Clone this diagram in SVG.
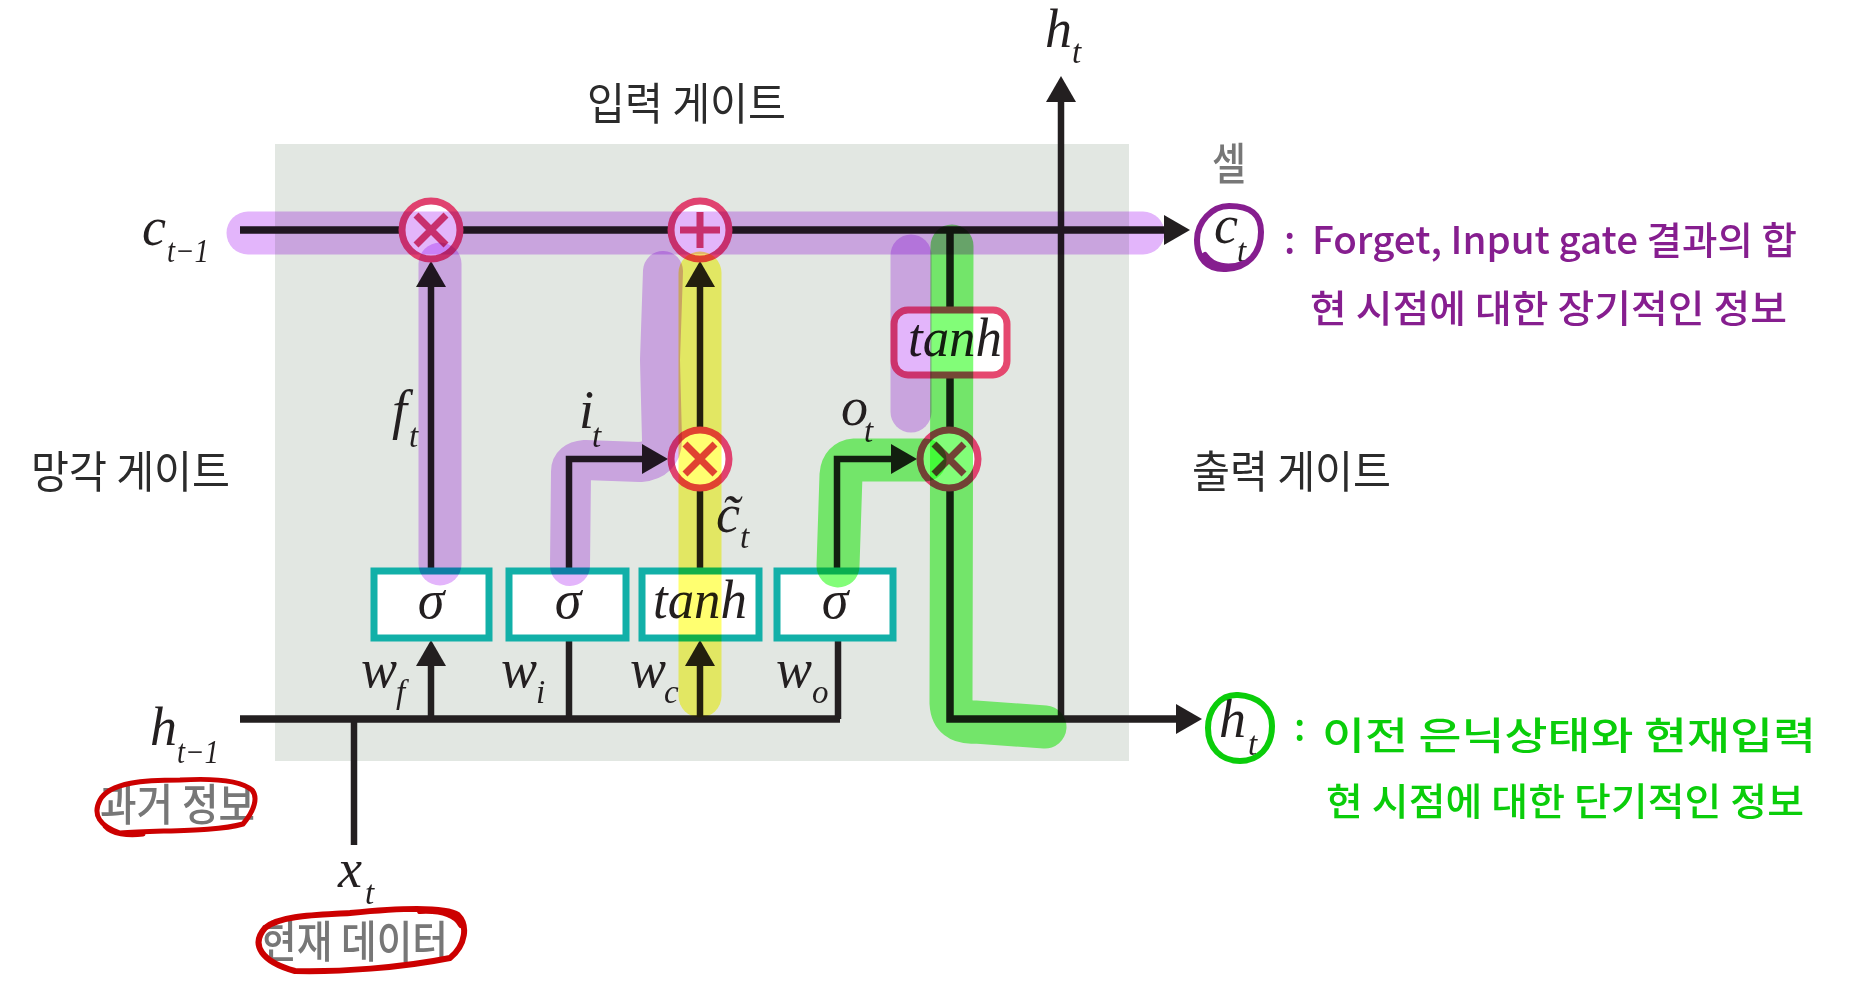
<svg xmlns="http://www.w3.org/2000/svg" width="1852" height="1000" viewBox="0 0 1852 1000">
<style>
.wire{fill:none;stroke:#231f20;stroke-width:6.5}
.thick{stroke-width:7.5}
.arr{marker-end:url(#head)}
.box{fill:#fff;stroke:#12b0a8;stroke-width:7}
.tbox{fill:#fff;stroke:#e5486f;stroke-width:7}
.op{fill:#fff;stroke:#e0426f;stroke-width:7}
.opm{fill:none;stroke:#e0426f;stroke-width:7}
.m{font-family:"Liberation Serif",serif;font-style:italic;fill:#231f20;font-size:54px}
.s{font-family:"Liberation Serif",serif;font-style:italic;fill:#231f20;font-size:33px}
.k{font-family:"Noto Sans CJK KR","Noto Sans",sans-serif;fill:#2b2b2b;font-size:44px}
.g{fill:#777;font-weight:500}
.hand{font-family:"Noto Sans CJK KR","Noto Sans",sans-serif;font-size:38px;font-weight:500}
.pp{fill:#861e8f}
.gr{fill:#0acd0a}
.hl{fill:none;stroke-linecap:round;stroke-linejoin:round;mix-blend-mode:multiply}
.hp{stroke:#e3b5fb}
.hy{stroke:#ffff70}
.hg{stroke:#82fd78}
.ring{fill:none;stroke-linecap:round;stroke-linejoin:round}
</style>
<defs>
<marker id="head" viewBox="0 0 26 30" refX="0" refY="15" markerWidth="26" markerHeight="30" markerUnits="userSpaceOnUse" orient="auto"><path d="M0 0L26 15L0 30Z" fill="#231f20"/></marker>
</defs>
<rect width="1852" height="1000" fill="#fff"/>
<rect id="cell-bg" x="275" y="144" width="854" height="617" fill="#e2e7e2"/>
<g id="connectors">
<path class="wire thick arr" d="M240 230H1164"/>
<path class="wire thick" d="M240 719H840"/>
<path class="wire" d="M354 719V845"/>
<path class="wire arr" d="M431 568V287"/>
<path class="wire arr" d="M431 719V666"/>
<path class="wire arr" d="M569 568V459H642"/>
<path class="wire" d="M569 719V641"/>
<path class="wire arr" d="M700 719V666"/>
<path class="wire" d="M700 568V490"/>
<path class="wire arr" d="M700 428V287"/>
<path class="wire" d="M838 719V641"/>
<path class="wire arr" d="M837 568V459H891"/>
<path class="wire thick arr" d="M950 230V719H1176"/>
<path class="wire arr" d="M1061 719V102"/>
</g>
<g id="sigma-f"><rect class="box" x="374" y="571" width="115" height="67"/><text class="m" x="431" y="618" text-anchor="middle">σ</text></g>
<g id="sigma-i"><rect class="box" x="509" y="571" width="117" height="67"/><text class="m" x="568" y="618" text-anchor="middle">σ</text></g>
<g id="tanh-c"><rect class="box" x="642" y="571" width="117" height="67"/><text class="m" x="700" y="618" text-anchor="middle" textLength="94" lengthAdjust="spacingAndGlyphs">tanh</text></g>
<g id="sigma-o"><rect class="box" x="777" y="571" width="116" height="67"/><text class="m" x="835" y="618" text-anchor="middle">σ</text></g>
<g id="tanh-o"><rect class="tbox" x="894" y="310" width="113" height="65" rx="14"/><text class="m" x="955" y="356" text-anchor="middle" textLength="94" lengthAdjust="spacingAndGlyphs">tanh</text></g>
<g id="mul-forget"><circle class="op" cx="431" cy="230" r="29"/><path class="opm" d="M416 215L446 245M446 215L416 245"/></g>
<g id="add-cell"><circle class="op" cx="700" cy="230" r="29"/><path class="opm" d="M680 230H720M700 212V248"/></g>
<g id="mul-input"><circle class="op" cx="700" cy="459" r="29"/><path class="opm" d="M685 444L715 474M715 444L685 474"/></g>
<g id="mul-output"><circle class="op" cx="949" cy="459" r="29"/><path class="opm" d="M934 444L964 474M964 444L934 474"/></g>
<g id="labels-math">
<text class="m" x="142" y="245">c</text><text class="s" x="167" y="262" textLength="42" lengthAdjust="spacingAndGlyphs">t−1</text>
<text class="m" x="392" y="428">f</text><text class="s" x="409" y="447">t</text>
<text class="m" x="579" y="428">i</text><text class="s" x="592" y="447">t</text>
<text class="m" x="841" y="425">o</text><text class="s" x="864" y="442">t</text>
<text class="m" x="716" y="532">c̃</text><text class="s" x="740" y="548">t</text>
<text class="m" x="361" y="687">w</text><text class="s" x="396" y="703">f</text>
<text class="m" x="501" y="687">w</text><text class="s" x="536" y="703">i</text>
<text class="m" x="630" y="687">w</text><text class="s" x="664" y="703">c</text>
<text class="m" x="776" y="687">w</text><text class="s" x="812" y="703">o</text>
<text class="m" x="150" y="745">h</text><text class="s" x="177" y="763" textLength="42" lengthAdjust="spacingAndGlyphs">t−1</text>
<text class="m" x="338" y="887">x</text><text class="s" x="365" y="904">t</text>
<text class="m" x="1045" y="47">h</text><text class="s" x="1072" y="63">t</text>
<text class="m" x="1214" y="243">c</text><text class="s" x="1237" y="262">t</text>
<text class="m" x="1219" y="737">h</text><text class="s" x="1248" y="755">t</text>
</g>
<g id="labels-kr">
<text class="k" x="587" y="120" textLength="199" lengthAdjust="spacingAndGlyphs">입력 게이트</text>
<text class="k" x="31" y="488" textLength="199" lengthAdjust="spacingAndGlyphs">망각 게이트</text>
<text class="k" x="1192" y="488" textLength="199" lengthAdjust="spacingAndGlyphs">출력 게이트</text>
<text class="k g" x="1212" y="180" textLength="34" lengthAdjust="spacingAndGlyphs">셀</text>
<text class="k g" x="100" y="821" textLength="155" lengthAdjust="spacingAndGlyphs">과거 정보</text>
<text class="k g" x="261" y="958" textLength="187" lengthAdjust="spacingAndGlyphs">현재 데이터</text>
</g>
<g id="highlights" stroke-width="43">
<path class="hl hp" d="M248 233H1143"/>
<path class="hl hp" d="M440 264V564"/>
<path class="hl hy" d="M700 273V696"/>
<path class="hl hp" stroke-width="40" d="M570 566L571 472Q571 461 585 460L640 462Q662 460 662 440L660 360L663 271"/>
<path class="hl hp" stroke-width="41" d="M911 255V412"/>
<path class="hl hg" d="M838 566L841 475Q842 461 855 460L925 460"/>
<path class="hl hg" d="M952 246L951 703Q952 724 975 722L1045 727"/>
</g>
<g id="notes-cell">
<path class="ring" stroke="#861e8f" stroke-width="6" d="M1229 206C1212 206 1197 222 1197 240C1197 258 1207 270 1226 269C1247 268 1261 254 1261 232C1261 215 1252 206 1229 206ZM1205 255C1212 266 1228 270 1245 263"/>
<text class="hand pp" x="1284" y="254">:</text>
<text class="hand pp" x="1312" y="254" textLength="485" lengthAdjust="spacingAndGlyphs">Forget, Input gate 결과의 합</text>
<text class="hand pp" x="1310" y="322" textLength="477" lengthAdjust="spacingAndGlyphs">현 시점에 대한 장기적인 정보</text>
</g>
<g id="notes-hidden">
<path class="ring" stroke="#0acd0a" stroke-width="6" d="M1238 695C1220 694 1208 710 1208 728C1208 748 1221 761 1240 761C1258 761 1272 748 1272 726C1272 708 1258 696 1238 695Z"/>
<text class="hand gr" x="1294" y="741">:</text>
<text class="hand gr" x="1322" y="749" textLength="494" lengthAdjust="spacingAndGlyphs">이전 은닉상태와 현재입력</text>
<text class="hand gr" x="1326" y="815" textLength="478" lengthAdjust="spacingAndGlyphs">현 시점에 대한 단기적인 정보</text>
</g>
<g id="circles-red">
<path class="ring" stroke="#cc0000" stroke-width="5" d="M180 780C145 780 110 782 100 800C92 815 100 826 120 833C160 830 215 832 243 824C255 810 258 797 252 790C240 780 215 778 180 780ZM105 826C112 834 128 836 143 834"/>
<path class="ring" stroke="#cc0000" stroke-width="6" d="M350 913C320 915 280 915 265 928C250 945 262 962 295 971C340 972 400 968 450 958C466 945 468 925 458 915C445 906 400 908 350 913ZM420 911C440 910 455 914 461 925"/>
</g>
</svg>
